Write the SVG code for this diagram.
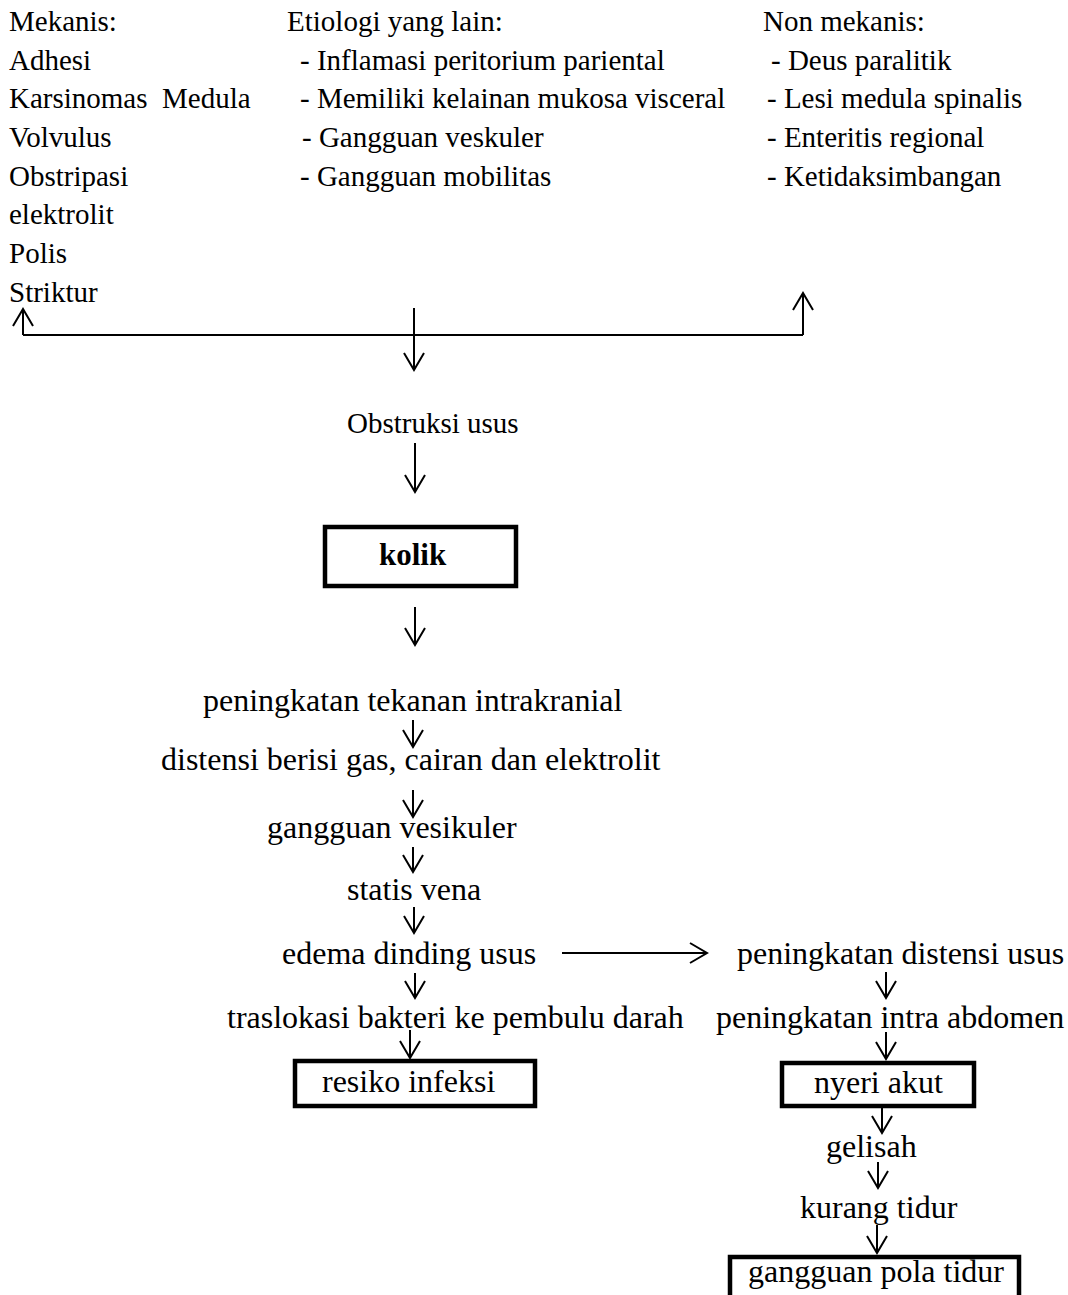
<svg xmlns="http://www.w3.org/2000/svg" width="1068" height="1295" viewBox="0 0 1068 1295">
<style>
  text { font-family: "Liberation Serif", "Times New Roman", serif; fill: #000; }
  .t { font-size: 29px; }
  .m { font-size: 32px; }
  .b { font-size: 31px; font-weight: bold; }
  .box { fill: #fff; stroke: #000; stroke-width: 4.5; }
  .ln { fill: none; stroke: #000; stroke-width: 2; }
</style>
<defs>
  <marker id="ah" viewBox="-19 -12 22 24" markerWidth="22" markerHeight="24" refX="0" refY="0" orient="auto" markerUnits="userSpaceOnUse">
    <path d="M-17,-10 L0,0 L-17,10" fill="none" stroke="#000" stroke-width="2"/>
  </marker>
</defs>
<rect width="1068" height="1295" fill="#fff"/>

<g id="mekanis">
  <text class="t" x="9" y="31">Mekanis:</text>
  <text class="t" x="9" y="70">Adhesi</text>
  <text class="t" x="9" y="108" xml:space="preserve">Karsinomas  Medula</text>
  <text class="t" x="9" y="147">Volvulus</text>
  <text class="t" x="9" y="186">Obstripasi</text>
  <text class="t" x="9" y="224">elektrolit</text>
  <text class="t" x="9" y="263">Polis</text>
  <text class="t" x="9" y="302">Striktur</text>
</g>
<g id="etiologi">
  <text class="t" x="287" y="31">Etiologi yang lain:</text>
  <text class="t" x="300" y="70">- Inflamasi peritorium pariental</text>
  <text class="t" x="300" y="108">- Memiliki kelainan mukosa visceral</text>
  <text class="t" x="302" y="147">- Gangguan veskuler</text>
  <text class="t" x="300" y="186">- Gangguan mobilitas</text>
</g>
<g id="nonmekanis">
  <text class="t" x="763" y="31">Non mekanis:</text>
  <text class="t" x="771" y="70">- Deus paralitik</text>
  <text class="t" x="767" y="108">- Lesi medula spinalis</text>
  <text class="t" x="767" y="147">- Enteritis regional</text>
  <text class="t" x="767" y="186">- Ketidaksimbangan</text>
</g>

<g id="connectors">
  <path class="ln" d="M23,335 L803,335"/>
  <path class="ln" d="M23,335 L23,309" marker-end="url(#ah)"/>
  <path class="ln" d="M803,335 L803,293" marker-end="url(#ah)"/>
  <path class="ln" d="M414,308 L414,370" marker-end="url(#ah)"/>
  <path class="ln" d="M415,443 L415,492" marker-end="url(#ah)"/>
  <path class="ln" d="M415,607 L415,645" marker-end="url(#ah)"/>
  <path class="ln" d="M413,720 L413,747" marker-end="url(#ah)"/>
  <path class="ln" d="M413,790 L413,817" marker-end="url(#ah)"/>
  <path class="ln" d="M413,847 L413,872" marker-end="url(#ah)"/>
  <path class="ln" d="M414,907 L414,933" marker-end="url(#ah)"/>
  <path class="ln" d="M415,973 L415,998" marker-end="url(#ah)"/>
  <path class="ln" d="M410,1030 L410,1058" marker-end="url(#ah)"/>
  <path class="ln" d="M562,953 L707,953" marker-end="url(#ah)"/>
  <path class="ln" d="M886,972 L886,998" marker-end="url(#ah)"/>
  <path class="ln" d="M886,1032 L886,1059" marker-end="url(#ah)"/>
  <path class="ln" d="M882,1108 L882,1133" marker-end="url(#ah)"/>
  <path class="ln" d="M878,1162 L878,1188" marker-end="url(#ah)"/>
  <path class="ln" d="M877,1225 L877,1253" marker-end="url(#ah)"/>
</g>

<g id="obstruksi">
  <text class="t" x="347" y="433">Obstruksi usus</text>
</g>
<g id="kolik">
  <rect class="box" x="325" y="527" width="191" height="59"/>
  <text class="b" x="379" y="565">kolik</text>
</g>
<g id="tekanan">
  <text class="m" x="203" y="711">peningkatan tekanan intrakranial</text>
</g>
<g id="distensi">
  <text class="m" x="161" y="770">distensi berisi gas, cairan dan elektrolit</text>
</g>
<g id="vesikuler">
  <text class="m" x="267" y="838">gangguan vesikuler</text>
</g>
<g id="statis">
  <text class="m" x="347" y="900">statis vena</text>
</g>
<g id="edema">
  <text class="m" x="282" y="964">edema dinding usus</text>
</g>
<g id="traslokasi">
  <text class="m" x="227" y="1028">traslokasi bakteri ke pembulu darah</text>
</g>
<g id="resiko">
  <rect class="box" x="295" y="1061" width="240" height="45"/>
  <text class="m" x="322" y="1092">resiko infeksi</text>
</g>
<g id="distensi-usus">
  <text class="m" x="737" y="964">peningkatan distensi usus</text>
</g>
<g id="intra-abdomen">
  <text class="m" x="716" y="1028">peningkatan intra abdomen</text>
</g>
<g id="nyeri">
  <rect class="box" x="782" y="1063" width="192" height="43"/>
  <text class="m" x="814" y="1093">nyeri akut</text>
</g>
<g id="gelisah">
  <text class="m" x="826" y="1157">gelisah</text>
</g>
<g id="kurang-tidur">
  <text class="m" x="800" y="1218">kurang tidur</text>
</g>
<g id="pola-tidur">
  <rect class="box" x="730" y="1257" width="289" height="60"/>
  <text class="m" x="748" y="1282">gangguan pola tidur</text>
</g>
</svg>
